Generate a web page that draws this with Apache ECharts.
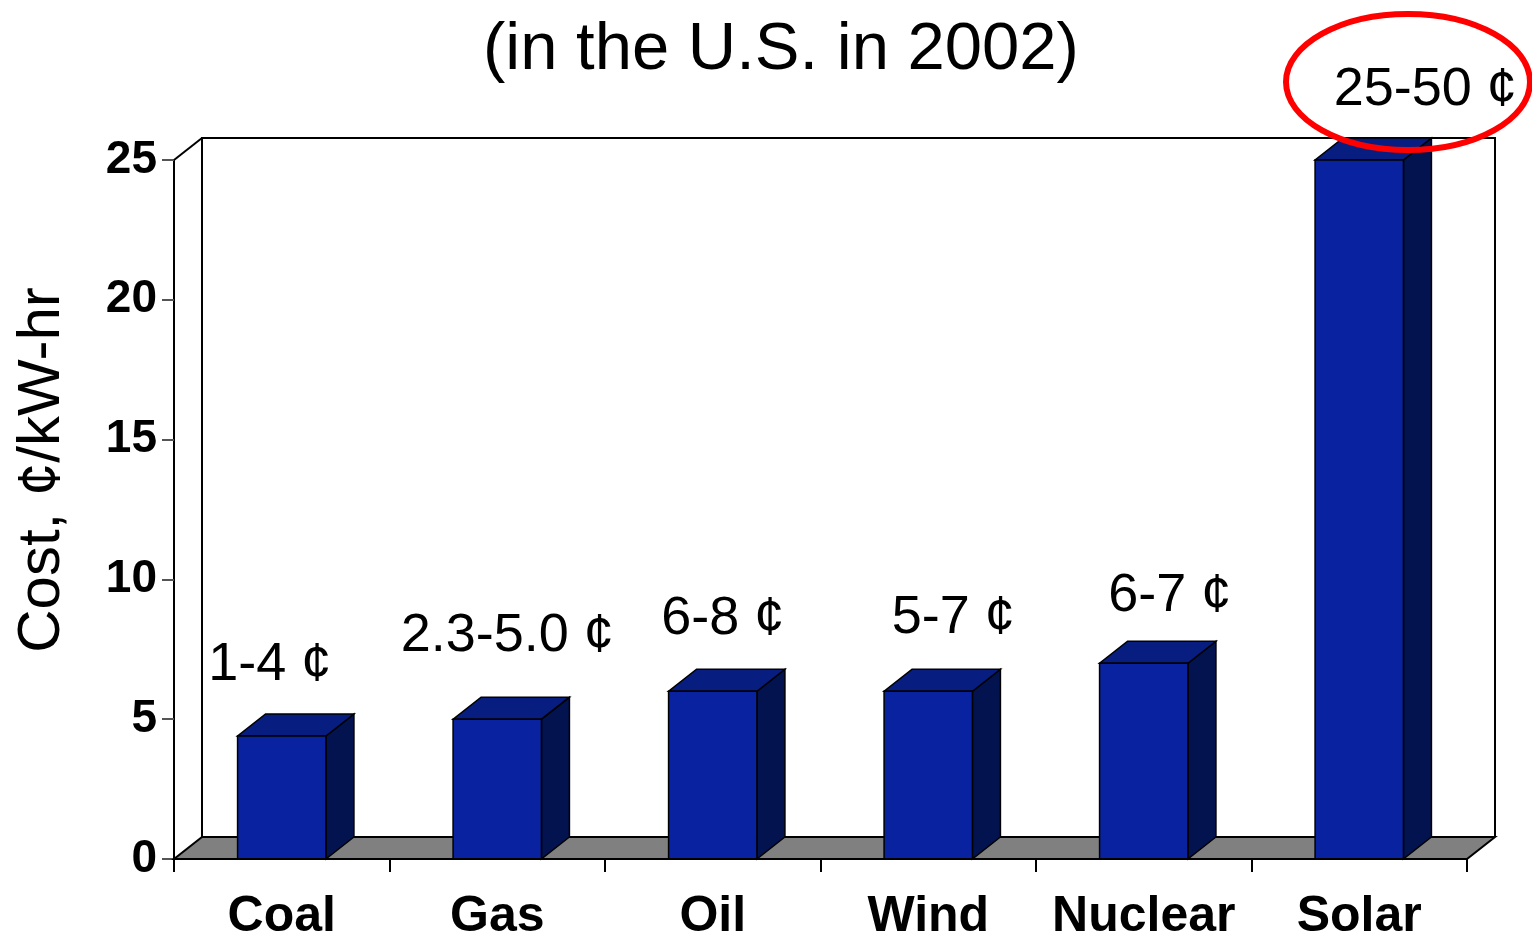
<!DOCTYPE html>
<html>
<head>
<meta charset="utf-8">
<script src="https://cdn.jsdelivr.net/npm/echarts@6/dist/echarts.min.js"></script>
<style>
	html, body { margin: 0; padding: 0; background: #fff; }
	#chart { width: 1532px; height: 939px; }
</style>
</head>
<body>
<div id="chart"></div>
<script>
	// 2002 electricity cost by source
	var sources = ['Coal', 'Gas', 'Oil', 'Wind', 'Nuclear', 'Solar'];
	var costs = [4.4, 5, 6, 6, 7, 25]; // bar heights, cents/kW-hr
	var rangeLabels = ['1-4 ¢', '2.3-5.0 ¢', '6-8 ¢', '5-7 ¢', '6-7 ¢', '25-50 ¢'];
	var yTicks = [0, 5, 10, 15, 20, 25];

	var DX = 28, DY = -22; //3d depth offset
	var FONT = '"Liberation Sans", Arial, sans-serif';
	var labelNudge = [[-12, -71], [10, -83], [10, -72], [25, -73], [26, -67], [66, -70]];

	// floor + back wall
	var _frame = function(params, api) {
		var cs = params.coordSys;
		var x0 = cs.x, x1 = cs.x + cs.width;
		var yT = cs.y, yB = cs.y + cs.height;
		return {
			type: 'group',
			children: [{
				type: 'polyline',
				shape: { points: [[x0 + DX, yB + DY], [x0 + DX, yT + DY], [x1 + DX, yT + DY], [x1 + DX, yB + DY]] },
				style: { fill: null, stroke: '#000', lineWidth: 2 }
			}, {
				type: 'line',
				shape: { x1: x0, y1: yT, x2: x0 + DX, y2: yT + DY },
				style: { stroke: '#000', lineWidth: 2 }
			}, {
				type: 'polygon',
				shape: { points: [[x0, yB], [x1, yB], [x1 + DX, yB + DY], [x0 + DX, yB + DY]] },
				style: { fill: '#808080', stroke: '#000', lineWidth: 2 }
			}]
		};
	}

	var _bar3d = function(params, api) {
		var i = params.dataIndex;
		var top = api.coord([api.value(0), api.value(1)]);
		var base = api.coord([api.value(0), 0]);
		var w = api.size([1, 0])[0] * 0.41;
		var xl = top[0] - w / 2, xr = top[0] + w / 2;
		var yt = top[1], yb = base[1];
		var line = { stroke: '#000', lineWidth: 1.5 };
		return {
			type: 'group',
			children: [{
				type: 'polygon',
				shape: { points: [[xr, yb], [xr, yt], [xr + DX, yt + DY], [xr + DX, yb + DY]] },
				style: Object.assign({ fill: '#021350' }, line)
			}, {
				type: 'polygon',
				shape: { points: [[xl, yt], [xr, yt], [xr + DX, yt + DY], [xl + DX, yt + DY]] },
				style: Object.assign({ fill: '#081d80' }, line)
			}, {
				type: 'rect',
				shape: { x: xl, y: yt, width: w, height: yb - yt },
				style: Object.assign({ fill: '#0923a0' }, line)
			}, {
				type: 'text',
				x: top[0] + labelNudge[i][0],
				y: yt + labelNudge[i][1],
				style: {
					text: rangeLabels[i],
					fill: '#000',
					font: '54px ' + FONT,
					textAlign: 'center',
					textVerticalAlign: 'middle'
				}
			}]
		};
	}

	var chart = echarts.init(document.getElementById('chart'));
	chart.setOption({
		animation: false,
		backgroundColor: '#fff',
		title: {
			text: '(in the U.S. in 2002)',
			left: 478,
			top: 12,
			textStyle: { fontFamily: FONT, fontSize: 67, fontWeight: 'normal', color: '#000' }
		},
		grid: { left: 174, right: 65, top: 160, bottom: 80, outerBoundsMode: 'none', containLabel: false },
		xAxis: {
			type: 'category',
			data: sources,
			boundaryGap: true,
			z: 5,
			axisLine: { show: true, lineStyle: { color: '#000', width: 2 } },
			axisTick: { show: true, interval: 0, alignWithLabel: false, length: 13, lineStyle: { color: '#000', width: 2 } },
			axisLabel: { interval: 0, margin: 33, color: '#000', fontFamily: FONT, fontSize: 50, fontWeight: 'bold' }
		},
		yAxis: {
			type: 'value',
			min: yTicks[0],
			max: yTicks[yTicks.length - 1],
			interval: 5,
			axisLine: { show: true, lineStyle: { color: '#000', width: 2 } },
			axisTick: { show: true, inside: false, length: 12, lineStyle: { color: '#555', width: 2 } },
			axisLabel: { margin: 17, color: '#000', fontFamily: FONT, fontSize: 46, fontWeight: 'bold' },
			splitLine: { show: false }
		},
		graphic: [{
			type: 'text',
			x: 42,
			y: 470,
			rotation: Math.PI / 2,
			style: {
				text: 'Cost, ¢/kW-hr',
				fill: '#000',
				font: '60px ' + FONT,
				textAlign: 'center',
				textVerticalAlign: 'middle'
			}
		}, {
			type: 'ellipse',
			z: 100,
			shape: { cx: 1408, cy: 82, rx: 122, ry: 68 },
			style: { fill: null, stroke: '#f00', lineWidth: 6 }
		}],
		series: [{
			type: 'custom',
			z: 1,
			renderItem: _frame,
			data: [0],
			silent: true
		}, {
			type: 'custom',
			z: 3,
			renderItem: _bar3d,
			encode: { x: 0, y: 1 },
			data: costs.map(function(v, i) { return [i, v]; })
		}]
	});
</script>
</body>
</html>
